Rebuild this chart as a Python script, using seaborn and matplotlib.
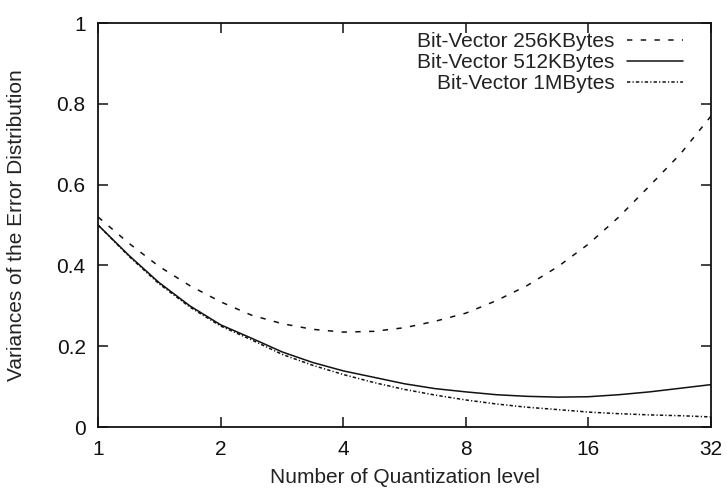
import matplotlib
matplotlib.use("Agg")
import pandas as pd
import seaborn as sns
import matplotlib.pyplot as plt

# values
levels = [1, 1.19, 1.41, 1.68, 2, 2.38, 2.83, 3.36, 4, 4.76, 5.66, 6.73,
          8, 9.51, 11.3, 13.5, 16, 19.0, 22.6, 26.9, 32]
bv_256k = [0.52, 0.455, 0.398, 0.35, 0.31, 0.277, 0.256, 0.242, 0.235, 0.237, 0.246,
           0.262, 0.282, 0.313, 0.35, 0.398, 0.453, 0.52, 0.597, 0.676, 0.77]
bv_512k = [0.50, 0.425, 0.358, 0.30, 0.253, 0.22, 0.186, 0.16, 0.139, 0.123, 0.107,
           0.095, 0.087, 0.080, 0.076, 0.074, 0.075, 0.080, 0.087, 0.096, 0.105]
bv_1m = [0.50, 0.423, 0.355, 0.297, 0.250, 0.216, 0.180, 0.153, 0.130, 0.110, 0.093,
         0.079, 0.067, 0.057, 0.049, 0.043, 0.037, 0.033, 0.030, 0.028, 0.025]
labels = ["Bit-Vector 256KBytes", "Bit-Vector 512KBytes", "Bit-Vector 1MBytes"]
xticks = [1, 2, 4, 8, 16, 32]
yticks = [0, 0.2, 0.4, 0.6, 0.8, 1]

sns.set_style("ticks")
plt.rcParams["font.family"] = ["Liberation Sans", "DejaVu Sans"]

fig = plt.figure(figsize=(7.27, 4.94), dpi=100)
ax = fig.add_axes([0.135, 0.1356, 0.843, 0.8174])

styles = [(0, (3.5, 5.5)), "-", (0, (2.2, 1.4, 0.8, 1.4))]
for vals, lab, ls in zip([bv_256k, bv_512k, bv_1m], labels, styles):
    df = pd.DataFrame({"level": levels, "var": vals})
    sns.lineplot(data=df, x="level", y="var", ax=ax, color="#111111",
                 linewidth=1.1, linestyle=ls, label=lab)

ax.set_xscale("log", base=2)
ax.set_xlim(1, 32)
ax.set_ylim(0, 1)
ax.set_xticks(xticks)
ax.set_xticklabels([str(t) for t in xticks])
ax.set_yticks(yticks)
ax.set_yticklabels(["0", "0.2", "0.4", "0.6", "0.8", "1"])
ax.minorticks_off()
ax.tick_params(direction="in", length=7, width=1.1, top=True, right=True,
               labelsize=15, colors="#111111", pad=9)
for sp in ax.spines.values():
    sp.set_linewidth(1.3)
    sp.set_color("#111111")
    sp.set_visible(True)

ax.set_xlabel("Number of Quantization level", fontsize=15, color="#222222", labelpad=7)
ax.set_ylabel("Variances of the Error Distribution", fontsize=15, color="#222222", labelpad=22)

leg = ax.legend(loc="upper right", bbox_to_anchor=(0.955, 0.978), frameon=False,
                markerfirst=False, fontsize=15, handlelength=2.7, handletextpad=0.6,
                labelspacing=0.1, borderpad=0, borderaxespad=0)
for t in leg.get_texts():
    t.set_color("#222222")

fig.savefig("out.png", dpi=100)
